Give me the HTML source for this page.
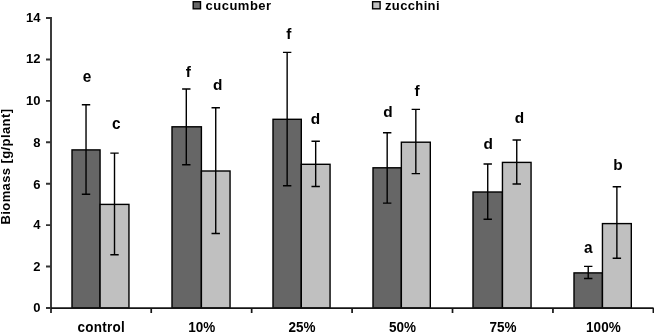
<!DOCTYPE html>
<html><head><meta charset="utf-8"><style>
html,body{margin:0;padding:0;background:#fff;}
svg{display:block;filter:grayscale(1);}
text{font-family:"Liberation Sans",sans-serif;font-weight:bold;fill:#000;} text:not([font-size]){font-size:13px;}
text.l{font-size:14px;}
</style></head><body>
<svg width="654" height="332" viewBox="0 0 654 332">
<rect x="72.00" y="149.90" width="28.06" height="158.10" fill="#666666" stroke="#000" stroke-width="1.4"/>
<rect x="100.06" y="204.40" width="28.90" height="103.60" fill="#c0c0c0" stroke="#000" stroke-width="1.4"/>
<rect x="172.00" y="126.80" width="29.40" height="181.20" fill="#666666" stroke="#000" stroke-width="1.4"/>
<rect x="201.40" y="171.00" width="28.65" height="137.00" fill="#c0c0c0" stroke="#000" stroke-width="1.4"/>
<rect x="273.00" y="119.30" width="28.30" height="188.70" fill="#666666" stroke="#000" stroke-width="1.4"/>
<rect x="301.30" y="164.30" width="28.76" height="143.70" fill="#c0c0c0" stroke="#000" stroke-width="1.4"/>
<rect x="373.00" y="167.80" width="28.35" height="140.20" fill="#666666" stroke="#000" stroke-width="1.4"/>
<rect x="401.35" y="142.20" width="28.95" height="165.80" fill="#c0c0c0" stroke="#000" stroke-width="1.4"/>
<rect x="473.00" y="192.00" width="29.45" height="116.00" fill="#666666" stroke="#000" stroke-width="1.4"/>
<rect x="502.45" y="162.40" width="28.61" height="145.60" fill="#c0c0c0" stroke="#000" stroke-width="1.4"/>
<rect x="574.00" y="272.90" width="28.45" height="35.10" fill="#666666" stroke="#000" stroke-width="1.4"/>
<rect x="602.45" y="223.60" width="28.85" height="84.40" fill="#c0c0c0" stroke="#000" stroke-width="1.4"/>
<path d="M86.03 104.70V194.20M81.83 104.70H90.23M81.83 194.20H90.23" stroke="#000" stroke-width="1.4" fill="none"/>
<path d="M114.51 153.10V254.70M110.31 153.10H118.71M110.31 254.70H118.71" stroke="#000" stroke-width="1.4" fill="none"/>
<path d="M186.30 89.00V164.80M182.10 89.00H190.50M182.10 164.80H190.50" stroke="#000" stroke-width="1.4" fill="none"/>
<path d="M215.73 107.70V233.50M211.53 107.70H219.93M211.53 233.50H219.93" stroke="#000" stroke-width="1.4" fill="none"/>
<path d="M287.15 52.40V185.80M282.95 52.40H291.35M282.95 185.80H291.35" stroke="#000" stroke-width="1.4" fill="none"/>
<path d="M315.68 141.30V186.50M311.48 141.30H319.88M311.48 186.50H319.88" stroke="#000" stroke-width="1.4" fill="none"/>
<path d="M387.18 132.80V203.10M382.98 132.80H391.38M382.98 203.10H391.38" stroke="#000" stroke-width="1.4" fill="none"/>
<path d="M415.83 109.40V173.60M411.63 109.40H420.03M411.63 173.60H420.03" stroke="#000" stroke-width="1.4" fill="none"/>
<path d="M487.73 164.00V219.20M483.53 164.00H491.93M483.53 219.20H491.93" stroke="#000" stroke-width="1.4" fill="none"/>
<path d="M516.75 140.00V184.00M512.55 140.00H520.96M512.55 184.00H520.96" stroke="#000" stroke-width="1.4" fill="none"/>
<path d="M588.23 266.40V278.50M584.02 266.40H592.43M584.02 278.50H592.43" stroke="#000" stroke-width="1.4" fill="none"/>
<path d="M616.88 186.80V258.20M612.67 186.80H621.08M612.67 258.20H621.08" stroke="#000" stroke-width="1.4" fill="none"/>
<path d="M51 17.1V313 M46 308.00H51 M46 266.57H51 M46 225.14H51 M46 183.72H51 M46 142.29H51 M46 100.86H51 M46 59.43H51 M46 18.00H51" stroke="#333" stroke-width="1.9" fill="none"/>
<path d="M51 308.2H653.58 M151.23 308.0V313 M251.66 308.0V313 M352.09 308.0V313 M452.52 308.0V313 M552.95 308.0V313 M653.38 308.0V313" stroke="#151515" stroke-width="1.7" fill="none"/>
<text x="40.5" y="312.30" text-anchor="end">0</text>
<text x="40.5" y="271.00" text-anchor="end">2</text>
<text x="40.5" y="228.90" text-anchor="end">4</text>
<text x="40.5" y="188.50" text-anchor="end">6</text>
<text x="40.5" y="146.90" text-anchor="end">8</text>
<text x="40.5" y="105.30" text-anchor="end">10</text>
<text x="40.5" y="63.00" text-anchor="end">12</text>
<text x="40.5" y="21.60" text-anchor="end">14</text>
<text transform="translate(77.50,332.0) scale(1,1.06)" font-size="13.5" letter-spacing="0.25">control</text>
<text transform="translate(201.65,332.0) scale(1,1.06)" font-size="13.5" text-anchor="middle">10%</text>
<text transform="translate(302.08,332.0) scale(1,1.06)" font-size="13.5" text-anchor="middle">25%</text>
<text transform="translate(402.50,332.0) scale(1,1.06)" font-size="13.5" text-anchor="middle">50%</text>
<text transform="translate(502.94,332.0) scale(1,1.06)" font-size="13.5" text-anchor="middle">75%</text>
<text transform="translate(603.37,332.0) scale(1,1.06)" font-size="13.5" text-anchor="middle">100%</text>
<text class="l" transform="translate(87.00,82.00) scale(1.1,1.14)" text-anchor="middle">e</text>
<text class="l" transform="translate(116.30,129.30) scale(1.1,1.14)" text-anchor="middle">c</text>
<text class="l" transform="translate(188.40,76.50) scale(1.1,1.03)" text-anchor="middle">f</text>
<text class="l" transform="translate(217.80,89.50) scale(1.1,1.03)" text-anchor="middle">d</text>
<text class="l" transform="translate(288.70,39.00) scale(1.1,1.03)" text-anchor="middle">f</text>
<text class="l" transform="translate(315.50,124.00) scale(1.1,1.03)" text-anchor="middle">d</text>
<text class="l" transform="translate(388.00,116.50) scale(1.1,1.03)" text-anchor="middle">d</text>
<text class="l" transform="translate(417.10,95.50) scale(1.1,1.03)" text-anchor="middle">f</text>
<text class="l" transform="translate(488.20,148.80) scale(1.1,1.03)" text-anchor="middle">d</text>
<text class="l" transform="translate(519.50,123.20) scale(1.1,1.03)" text-anchor="middle">d</text>
<text class="l" transform="translate(588.20,252.60) scale(1.1,1.14)" text-anchor="middle">a</text>
<text class="l" transform="translate(618.00,170.00) scale(1.1,1.03)" text-anchor="middle">b</text>
<text transform="translate(10,224.5) rotate(-90)" letter-spacing="0.4">Biomass [g/plant]</text>
<rect x="193.2" y="1.7" width="7.3" height="7.1" fill="#666666" stroke="#000" stroke-width="1.4"/>
<text x="205.5" y="9.9" letter-spacing="0.5">cucumber</text>
<rect x="372.6" y="1.7" width="7.5" height="7.1" fill="#c0c0c0" stroke="#000" stroke-width="1.4"/>
<text x="385" y="9.9" letter-spacing="0.36">zucchini</text>
</svg>
</body></html>
